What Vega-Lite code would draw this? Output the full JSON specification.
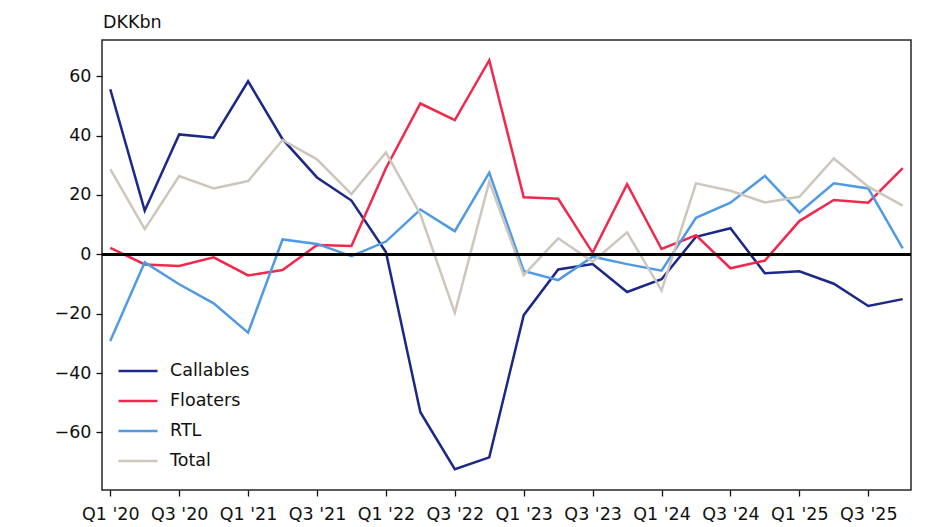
{
  "$schema": "https://vega.github.io/schema/vega-lite/v6.json",
  "autosize": {"type": "none"},
  "width": 809,
  "height": 450,
  "padding": {"left": 102, "top": 40, "right": 17, "bottom": 37},
  "background": "white",
  "config": {
    "font": "DejaVu Sans",
    "view": {"stroke": "#262626", "strokeWidth": 1.5},
    "axis": {"labelFont": "DejaVu Sans", "labelFontSize": 17.5, "labelColor": "#111", "tickColor": "#111", "tickWidth": 1.3, "tickSize": 6, "labelPadding": 4, "domain": false, "grid": false, "title": null},
    "legend": {"labelFont": "DejaVu Sans", "labelFontSize": 17.5, "labelColor": "#111"}
  },
  "title": {"text": "DKKbn", "anchor": "start", "frame": "group", "offset": 12, "dy": 17, "baseline": "alphabetic", "font": "DejaVu Sans", "fontSize": 17.5, "fontWeight": "normal", "color": "#111", "dx": 1},
  "data": {"values": [
    {"q": "Q1 '20", "Callables": 55.6, "Floaters": 2.2, "RTL": -29.2, "Total": 28.7},
    {"q": "Q2 '20", "Callables": 14.7, "Floaters": -3.4, "RTL": -2.7, "Total": 8.5},
    {"q": "Q3 '20", "Callables": 40.4, "Floaters": -3.9, "RTL": -10.1, "Total": 26.4},
    {"q": "Q4 '20", "Callables": 39.3, "Floaters": -1.0, "RTL": -16.5, "Total": 22.2},
    {"q": "Q1 '21", "Callables": 58.3, "Floaters": -7.1, "RTL": -26.4, "Total": 24.7},
    {"q": "Q2 '21", "Callables": 38.8, "Floaters": -5.3, "RTL": 5.0, "Total": 38.5},
    {"q": "Q3 '21", "Callables": 25.9, "Floaters": 3.1, "RTL": 3.5, "Total": 32.0},
    {"q": "Q4 '21", "Callables": 18.1, "Floaters": 2.8, "RTL": -0.6, "Total": 20.3},
    {"q": "Q1 '22", "Callables": 0.8, "Floaters": 29.0, "RTL": 4.3, "Total": 34.3},
    {"q": "Q2 '22", "Callables": -53.2, "Floaters": 50.8, "RTL": 15.1, "Total": 13.5},
    {"q": "Q3 '22", "Callables": -72.4, "Floaters": 45.2, "RTL": 7.8, "Total": -19.7},
    {"q": "Q4 '22", "Callables": -68.4, "Floaters": 65.4, "RTL": 27.5, "Total": 24.5},
    {"q": "Q1 '23", "Callables": -20.5, "Floaters": 19.2, "RTL": -5.6, "Total": -7.0},
    {"q": "Q2 '23", "Callables": -5.1, "Floaters": 18.7, "RTL": -8.7, "Total": 5.4},
    {"q": "Q3 '23", "Callables": -3.3, "Floaters": 0.5, "RTL": -0.8, "Total": -2.5},
    {"q": "Q4 '23", "Callables": -12.7, "Floaters": 23.6, "RTL": -3.3, "Total": 7.4},
    {"q": "Q1 '24", "Callables": -8.4, "Floaters": 1.8, "RTL": -5.5, "Total": -12.2},
    {"q": "Q2 '24", "Callables": 5.9, "Floaters": 6.4, "RTL": 12.3, "Total": 23.9},
    {"q": "Q3 '24", "Callables": 8.8, "Floaters": -4.7, "RTL": 17.4, "Total": 21.4},
    {"q": "Q4 '24", "Callables": -6.4, "Floaters": -2.1, "RTL": 26.4, "Total": 17.5},
    {"q": "Q1 '25", "Callables": -5.7, "Floaters": 11.2, "RTL": 14.1, "Total": 19.4},
    {"q": "Q2 '25", "Callables": -9.9, "Floaters": 18.3, "RTL": 23.9, "Total": 32.3},
    {"q": "Q3 '25", "Callables": -17.4, "Floaters": 17.4, "RTL": 22.2, "Total": 22.8},
    {"q": "Q4 '25", "Callables": -15.1, "Floaters": 29.0, "RTL": 2.0, "Total": 16.4}
  ]},
  "transform": [{"fold": ["Callables", "Floaters", "RTL", "Total"], "as": ["series", "value"]}],
  "layer": [
    {
      "mark": {"type": "line", "strokeWidth": 2.5, "strokeJoin": "miter"},
      "encoding": {
        "x": {"field": "q", "type": "ordinal", "sort": null,
          "scale": {"type": "point", "padding": 0.24},
          "axis": {"labelAngle": 0, "labelPadding": 9, "values": ["Q1 '20", "Q3 '20", "Q1 '21", "Q3 '21", "Q1 '22", "Q3 '22", "Q1 '23", "Q3 '23", "Q1 '24", "Q3 '24", "Q1 '25", "Q3 '25"]}},
        "y": {"field": "value", "type": "quantitative",
          "scale": {"domain": [-79.4, 72.2], "nice": false, "zero": false},
          "axis": {"values": [-60, -40, -20, 0, 20, 40, 60], "labelPadding": 5}},
        "color": {"field": "series", "type": "nominal",
          "scale": {"domain": ["Callables", "Floaters", "RTL", "Total"], "range": ["#1c2888", "#f0284c", "#4f9ae2", "#cdc6bd"]},
          "legend": {"title": null, "orient": "none", "legendX": 15, "legendY": 310, "symbolType": "stroke", "symbolSize": 1521, "symbolStrokeWidth": 2.6, "labelOffset": 11, "rowPadding": 0, "padding": 0}}
      }
    },
    {
      "mark": {"type": "rule", "color": "#000", "strokeWidth": 2.2},
      "encoding": {"y": {"datum": 0}}
    }
  ]
}
